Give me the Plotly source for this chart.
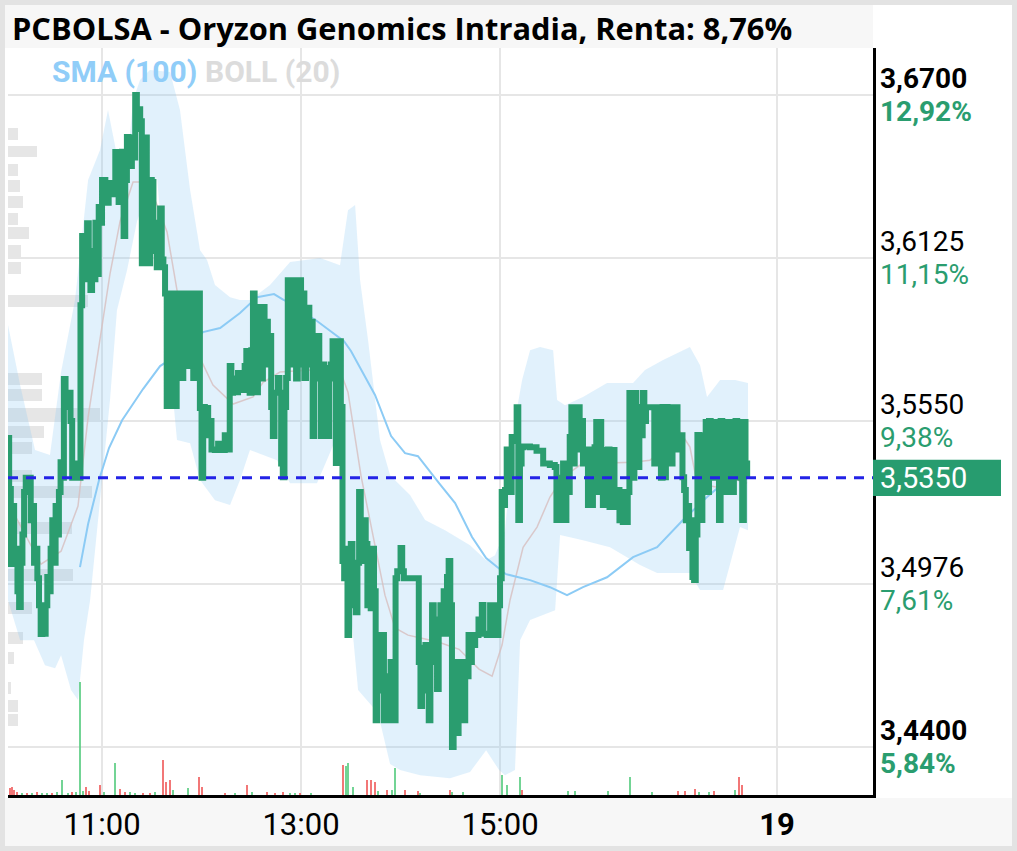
import plotly.graph_objects as go

# ---------------- data (minutes after 10:00, price in EUR) ----------------
ticks_morning = [
    (3, 3.549), (4, 3.531), (5, 3.5046), (6, 3.525), (7, 3.510), (9, 3.495), (10, 3.4894),
    (11, 3.505), (12, 3.515), (13, 3.530), (14, 3.535), (15, 3.530), (16, 3.535), (17, 3.520),
    (18, 3.525), (19, 3.505), (20, 3.510), (21, 3.4996), (22, 3.490), (23, 3.4799), (24, 3.485),
    (25, 3.480), (26, 3.490), (27, 3.500), (28, 3.495), (29, 3.510), (30, 3.520), (31, 3.505),
    (32, 3.525), (33, 3.515), (34, 3.530), (35, 3.5405), (36, 3.535), (37, 3.5698), (38, 3.565),
    (39, 3.560), (40, 3.565), (41, 3.555), (42, 3.535), (43, 3.540), (44, 3.535), (46, 3.535),
    (47, 3.5959), (48, 3.6203), (49, 3.605), (50, 3.615), (51, 3.6248), (52, 3.610), (53, 3.6012),
    (54, 3.615), (55, 3.605), (56, 3.625), (57, 3.6069), (58, 3.6305), (59, 3.625), (60, 3.640),
    (62, 3.632), (64, 3.639), (66, 3.635), (68, 3.6499), (69, 3.640), (70, 3.6323), (71, 3.645),
    (72, 3.650), (73, 3.6203), (74, 3.640), (75, 3.6552), (76, 3.650), (77, 3.645), (78, 3.655),
    (79, 3.648), (80, 3.670), (81, 3.658), (82, 3.665), (83, 3.6608), (84, 3.6107), (85, 3.640),
    (86, 3.655), (87, 3.620), (88, 3.6107), (89, 3.640), (90, 3.6393), (91, 3.615), (92, 3.625),
    (93, 3.6093), (94, 3.620), (95, 3.630), (96, 3.612), (97, 3.6093), (98, 3.600), (99, 3.5603),
    (101, 3.600), (103, 3.5603), (105, 3.600), (107, 3.5702), (109, 3.600), (111, 3.5744),
    (113, 3.600), (115, 3.5702), (117, 3.600), (119, 3.5596), (120, 3.535), (121, 3.560),
    (122, 3.550), (123, 3.5596), (124, 3.550), (125, 3.555), (126, 3.545), (128, 3.5448),
    (130, 3.547), (132, 3.5448), (134, 3.550), (136, 3.545), (137, 3.5744), (138, 3.565),
    (139, 3.570), (140, 3.5652), (142, 3.572), (144, 3.566), (146, 3.5744), (147, 3.5797),
    (148, 3.568), (149, 3.565), (150, 3.580), (151, 3.600),
]
ticks_midday = [
    (152, 3.590), (153, 3.5652), (154, 3.590), (155, 3.5952), (156, 3.570), (157, 3.5952),
    (158, 3.580), (159, 3.590), (160, 3.575), (161, 3.585), (162, 3.560), (163, 3.5497),
    (164, 3.565), (166, 3.5702), (167, 3.565), (168, 3.540), (169, 3.5352), (170, 3.560),
    (171, 3.5702), (172, 3.6047), (173, 3.580), (174, 3.600), (175, 3.575), (176, 3.6047),
    (177, 3.570), (178, 3.590), (179, 3.6047), (180, 3.575), (181, 3.600), (182, 3.5702),
    (183, 3.580), (184, 3.595), (185, 3.575), (186, 3.590), (187, 3.5497), (188, 3.570),
    (189, 3.575), (190, 3.585), (191, 3.570), (192, 3.5497), (193, 3.575), (194, 3.5737),
    (195, 3.565), (196, 3.5497), (197, 3.570), (198, 3.575), (199, 3.5832), (200, 3.570),
    (201, 3.5402), (202, 3.570), (203, 3.5832), (204, 3.560), (205, 3.5056), (206, 3.4996),
    (207, 3.510), (208, 3.4795), (209, 3.495), (210, 3.5116), (211, 3.490), (212, 3.500),
    (213, 3.4876), (214, 3.505), (215, 3.530), (216, 3.515), (217, 3.5056), (218, 3.520),
    (219, 3.5116), (220, 3.490), (221, 3.505), (222, 3.4890), (223, 3.510), (224, 3.495),
    (225, 3.4495), (226, 3.470), (227, 3.4795), (228, 3.460), (229, 3.4795), (230, 3.4495),
    (231, 3.465), (232, 3.4640), (233, 3.4495), (234, 3.470), (235, 3.455), (236, 3.4495),
    (237, 3.4996), (238, 3.502), (240, 3.5102), (241, 3.502), (242, 3.4996), (250, 3.4996),
    (251, 3.470), (252, 3.4545), (253, 3.475), (254, 3.460), (255, 3.4760), (256, 3.460),
    (257, 3.4495), (258, 3.470), (259, 3.490), (260, 3.475), (261, 3.485), (262, 3.4605),
    (263, 3.480), (264, 3.490), (265, 3.485), (266, 3.495), (267, 3.480), (268, 3.500),
    (269, 3.5056), (270, 3.490), (271, 3.440), (272, 3.470), (273, 3.455), (274, 3.445),
    (275, 3.465), (276, 3.470), (277, 3.455), (278, 3.4495), (279, 3.470), (280, 3.465),
    (281, 3.4795), (282, 3.470), (283, 3.4760), (285, 3.4795), (287, 3.485), (289, 3.4901),
    (290, 3.480), (292, 3.4795), (294, 3.490), (296, 3.4795), (298, 3.4795), (299, 3.490),
    (300, 3.4996),
]
ticks_afternoon = [
    (301, 3.530), (302, 3.5254), (303, 3.5307), (304, 3.545), (305, 3.5448), (306, 3.530),
    (307, 3.5494), (309, 3.548), (310, 3.5599), (311, 3.5201), (312, 3.540), (313, 3.5458),
    (314, 3.546), (318, 3.5458), (322, 3.5445), (326, 3.540), (330, 3.5395), (333, 3.5388),
    (334, 3.5201), (335, 3.535), (336, 3.5201), (338, 3.540), (339, 3.5201), (340, 3.530),
    (342, 3.5494), (343, 3.5599), (344, 3.540), (345, 3.5599), (346, 3.545), (347, 3.5599),
    (348, 3.545), (349, 3.555), (350, 3.540), (351, 3.545), (352, 3.5448), (353, 3.5254),
    (354, 3.545), (355, 3.5254), (356, 3.540), (357, 3.5458), (358, 3.5547), (359, 3.530),
    (360, 3.5547), (361, 3.540), (362, 3.5254), (363, 3.5448), (364, 3.530), (365, 3.545),
    (366, 3.5247), (367, 3.535), (368, 3.5448), (369, 3.530), (370, 3.5247), (371, 3.5307),
    (372, 3.520), (373, 3.530), (374, 3.5194), (375, 3.525), (376, 3.5194), (377, 3.530),
    (378, 3.5649), (379, 3.550), (380, 3.535), (381, 3.5649), (382, 3.545), (383, 3.5388),
    (384, 3.560), (385, 3.550), (386, 3.5649), (387, 3.555), (388, 3.5599), (390, 3.5599),
    (392, 3.5599), (393, 3.540), (394, 3.5599), (395, 3.545), (396, 3.5599), (397, 3.535),
    (398, 3.560), (399, 3.5352), (400, 3.560), (401, 3.545), (402, 3.5599), (403, 3.540),
    (404, 3.555), (406, 3.5599), (407, 3.545), (408, 3.550), (410, 3.5352), (411, 3.5307),
    (412, 3.520), (413, 3.525), (414, 3.5102), (415, 3.520), (416, 3.500), (417, 3.4989),
    (418, 3.515), (419, 3.5501), (420, 3.530), (421, 3.5201), (422, 3.550), (423, 3.535),
    (424, 3.5547), (425, 3.530), (426, 3.555), (427, 3.540), (428, 3.5547), (429, 3.535),
    (430, 3.5547), (431, 3.540), (432, 3.5201), (433, 3.555), (434, 3.540), (435, 3.5547),
    (436, 3.530), (437, 3.550), (438, 3.540), (439, 3.5547), (440, 3.530), (441, 3.5352),
    (442, 3.555), (443, 3.540), (444, 3.5547), (445, 3.535), (446, 3.5201), (447, 3.5547),
    (448, 3.540), (449, 3.535),
]

boll_upper = [
    (3.3, 3.5889), (10.6, 3.5677), (19.6, 3.5448), (28.6, 3.5430), (35.3, 3.5723), (43.7, 3.5977),
    (51.6, 3.6400), (58.8, 3.6506), (63.6, 3.6647), (69.0, 3.6488), (73.9, 3.6365), (78.7, 3.6682),
    (82.9, 3.6753), (88.9, 3.6788), (101.0, 3.6781), (107.0, 3.6647), (113.1, 3.6365),
    (119.1, 3.6153), (123.3, 3.6118), (128.1, 3.6030), (137.2, 3.5987), (143.2, 3.5977),
    (149.2, 3.5977), (161.3, 3.6030), (173.4, 3.6111), (191.5, 3.6125), (203.5, 3.6100),
    (208.3, 3.6294), (212.6, 3.6312), (215.6, 3.6047), (220.4, 3.5836), (227.6, 3.5483),
    (233.7, 3.5359), (245.7, 3.5289), (254.8, 3.5201), (266.8, 3.5165), (281.9, 3.5112),
    (291.6, 3.5059), (297.0, 3.5077), (303.0, 3.5165), (309.0, 3.5553), (313.3, 3.5695),
    (318.1, 3.5800), (324.1, 3.5811), (332.0, 3.5800), (334.4, 3.5624), (339.2, 3.5606),
    (350.0, 3.5635), (364.5, 3.5684), (380.2, 3.5684), (387.4, 3.5730), (398.3, 3.5765),
    (414.5, 3.5811), (420.6, 3.5747), (424.8, 3.5635), (432.7, 3.5695), (441.7, 3.5695),
    (449.5, 3.5684),
]
boll_lower = [
    (3.3, 3.4918), (10.6, 3.4777), (19.0, 3.4777), (25.6, 3.4689), (31.7, 3.4678), (35.3, 3.4724),
    (41.3, 3.4601), (45.5, 3.4566), (49.1, 3.4777), (52.8, 3.4918), (58.8, 3.5271), (64.8, 3.5624),
    (69.0, 3.5941), (75.1, 3.6083), (81.1, 3.6255), (88.9, 3.6382), (93.2, 3.6407), (96.8, 3.6153),
    (101.0, 3.5744), (105.2, 3.5483), (113.1, 3.5472), (119.1, 3.5342), (128.1, 3.5271),
    (137.2, 3.5254), (143.2, 3.5342), (149.2, 3.5448), (165.5, 3.5412), (173.4, 3.5331),
    (189.6, 3.5331), (199.9, 3.5472), (204.1, 3.5465), (207.1, 3.5059), (214.4, 3.4601),
    (226.4, 3.4520), (233.7, 3.4340), (239.7, 3.4319), (251.8, 3.4301), (269.8, 3.4290),
    (281.9, 3.4312), (291.6, 3.4389), (299.4, 3.4319), (303.0, 3.4301), (309.0, 3.4319),
    (312.1, 3.4777), (318.1, 3.4848), (333.2, 3.4883), (336.2, 3.5148), (350.0, 3.5130),
    (366.3, 3.5105), (384.4, 3.5042), (394.7, 3.5014), (414.5, 3.5014), (420.6, 3.4954),
    (434.5, 3.4954), (444.7, 3.5176), (449.5, 3.5165),
]
boll_mid = [
    (4.5, 3.5250), (23.2, 3.5045), (35.3, 3.5091), (45.5, 3.5250), (51.6, 3.5564), (60.0, 3.5878),
    (64.8, 3.6069), (70.9, 3.6255), (78.7, 3.6393), (87.1, 3.6393), (93.2, 3.6312), (99.2, 3.6217),
    (105.2, 3.6012), (111.3, 3.5878), (119.1, 3.5772), (126.9, 3.5677), (139.0, 3.5610),
    (151.1, 3.5635), (157.1, 3.5687), (167.3, 3.5723), (185.4, 3.5730), (204.1, 3.5719),
    (208.3, 3.5652), (216.2, 3.5356), (224.6, 3.5116), (230.6, 3.4936), (236.7, 3.4820),
    (244.5, 3.4795), (254.8, 3.4781), (263.2, 3.4770), (275.3, 3.4745), (287.3, 3.4675),
    (295.2, 3.4650), (301.2, 3.4760), (306.0, 3.4918), (313.9, 3.5105), (322.3, 3.5176),
    (330.1, 3.5282), (338.0, 3.5352), (350.0, 3.5402), (364.5, 3.5402), (380.2, 3.5405),
    (390.4, 3.5412), (398.3, 3.5448), (406.7, 3.5529), (414.5, 3.5458), (418.8, 3.5331),
    (430.8, 3.5317), (442.9, 3.5342), (448.9, 3.5331),
]
sma_100 = [
    (46.7, 3.5035), (51.6, 3.5187), (58.2, 3.5342), (64.2, 3.5455), (72.1, 3.5553), (84.7, 3.5663),
    (95.0, 3.5744), (105.2, 3.5783), (114.9, 3.5825), (120.9, 3.5864), (131.2, 3.5878),
    (143.2, 3.5931), (153.5, 3.5987), (163.7, 3.5998), (169.7, 3.5977), (189.6, 3.5903),
    (205.9, 3.5832), (210.1, 3.5797), (224.6, 3.5642), (234.3, 3.5497), (242.7, 3.5437),
    (250.5, 3.5426), (263.2, 3.5331), (272.9, 3.5261), (283.1, 3.5141), (291.6, 3.5067),
    (303.6, 3.5010), (318.1, 3.4989), (330.1, 3.4964), (340.4, 3.4936), (350.0, 3.4964),
    (364.5, 3.4999), (380.2, 3.5070), (394.7, 3.5105), (410.3, 3.5201), (424.8, 3.5282),
    (434.5, 3.5331), (448.9, 3.5402),
]

# volume per trade burst: (minute, shares, up?)
volume_bars = [
    (4.5, 700, 0), (5.7, 800, 0), (6.9, 500, 0), (8.7, 300, 0), (11.8, 200, 1), (14.8, 200, 0),
    (17.8, 200, 1), (20.8, 300, 0), (23.8, 200, 1), (26.8, 200, 1), (29.9, 200, 0), (32.9, 300, 1),
    (35.9, 1500, 1), (39.5, 200, 1), (41.9, 300, 0), (44.3, 300, 1), (46.7, 11300, 1),
    (48.5, 400, 1), (50.4, 800, 0), (52.2, 400, 0), (58.8, 1000, 0), (61.2, 300, 1),
    (67.8, 3200, 1), (70.9, 600, 0), (73.9, 300, 0), (76.9, 300, 1), (79.9, 200, 1),
    (84.7, 200, 0), (88.9, 200, 0), (92.0, 300, 1), (96.8, 3500, 0), (98.6, 1300, 0),
    (101.0, 1500, 0), (102.8, 500, 1), (111.9, 700, 1), (118.5, 1800, 0), (120.3, 800, 0),
    (134.2, 200, 0), (140.2, 200, 1), (147.4, 1000, 0), (150.5, 300, 1), (159.5, 300, 0),
    (164.3, 200, 0), (169.1, 300, 0), (173.4, 200, 1), (176.4, 200, 1), (179.4, 200, 0),
    (186.0, 200, 1), (205.3, 3000, 0), (207.1, 2900, 1), (208.3, 3200, 1), (211.4, 800, 1),
    (219.8, 1500, 0), (222.2, 1500, 0), (224.6, 1300, 0), (226.4, 400, 1), (231.9, 500, 0),
    (234.9, 500, 1), (236.7, 2700, 1), (242.7, 500, 0), (250.5, 400, 0), (251.8, 200, 1),
    (269.8, 500, 0), (271.1, 300, 1), (277.7, 300, 1), (301.2, 2000, 1), (304.2, 1000, 1),
    (312.1, 1800, 1), (313.3, 500, 0), (341.0, 400, 1), (345.2, 400, 1), (365.1, 400, 1),
    (378.4, 1800, 1), (391.8, 300, 1), (407.3, 400, 0), (411.5, 400, 0), (417.6, 600, 0),
    (420.0, 300, 1), (426.0, 300, 1), (429.0, 400, 0), (441.7, 500, 1), (444.1, 1800, 0),
    (445.9, 1000, 0),
]

# volume profile: price level, relative volume
profile_levels = [3.6564, 3.6501, 3.6437, 3.6379, 3.6324, 3.6264, 3.6215, 3.6151, 3.6091, 3.5973,
                  3.5698, 3.5643, 3.5576, 3.5513, 3.5456, 3.5356, 3.5301, 3.5172, 3.5007, 3.4890,
                  3.4784, 3.4714, 3.4608, 3.4545, 3.4495]
profile_volume = [10, 29, 10, 12, 15, 10, 21, 13, 13, 80, 34, 34, 92, 36, 24, 24, 84, 64, 65, 24,
                  15, 6, 3, 10, 10]

last_price = 3.535
price_ticks = [3.67, 3.6125, 3.555, 3.4975, 3.44]
price_labels = ["3,6700", "3,6125", "3,5550", "3,4976", "3,4400"]
pct_labels = ["12,92%", "11,15%", "9,38%", "7,61%", "5,84%"]
bold_ticks = [True, False, False, False, True]
time_ticks = [11.0, 13.0, 15.0, 17.784]
time_labels = ["11:00", "13:00", "15:00", "<b>19</b>"]

# ---------------- figure ----------------
X0, X1 = 10.055, 18.748
Y0, Y1 = 3.4231, 3.6866
GREEN = "#2a9d6f"


def hrs(m):
    return 10 + m / 60.0


ticks = ticks_morning + ticks_midday + ticks_afternoon
px = [hrs(t) for t, _ in ticks]
py = [p for _, p in ticks]

fig = go.Figure()

# Bollinger band fill
bx = [hrs(t) for t, _ in boll_upper] + [hrs(t) for t, _ in reversed(boll_lower)]
by = [p for _, p in boll_upper] + [p for _, p in reversed(boll_lower)]
fig.add_trace(go.Scatter(x=bx, y=by, fill="toself", fillcolor="rgba(140,200,245,0.26)",
                         line=dict(width=0), mode="lines", hoverinfo="skip", showlegend=False))
# volume profile
fig.add_trace(go.Bar(y=profile_levels, x=[v / 99.5 for v in profile_volume], base=X0,
                     orientation="h", width=0.0042,
                     marker=dict(color="rgba(200,200,200,0.45)", line=dict(width=0)),
                     showlegend=False, hoverinfo="skip"))
# Bollinger middle
fig.add_trace(go.Scatter(x=[hrs(t) for t, _ in boll_mid], y=[p for _, p in boll_mid], mode="lines",
                         line=dict(color="rgba(215,190,190,0.8)", width=1.5), showlegend=False))
# SMA 100
fig.add_trace(go.Scatter(x=[hrs(t) for t, _ in sma_100], y=[p for _, p in sma_100], mode="lines",
                         line=dict(color="#8ccbf5", width=2), showlegend=False))
# price
fig.add_trace(go.Scatter(x=px, y=py, mode="lines", line=dict(color=GREEN, width=6, shape="hv"),
                         showlegend=False))
# volume bars
fig.add_trace(go.Bar(x=[hrs(t) for t, _, _ in volume_bars], y=[v for _, v, _ in volume_bars],
                     width=0.022, yaxis="y2",
                     marker=dict(color=["rgba(90,205,130,0.85)" if u else "rgba(240,95,95,0.85)"
                                        for _, _, u in volume_bars], line=dict(width=0)),
                     showlegend=False))


def pxx(p):
    return (p - 8) / 865.0


def pyy(p):
    return (795 - p) / 747.0


shapes = [
    dict(type="rect", xref="paper", yref="paper", x0=pxx(5), x1=pxx(873), y0=pyy(48), y1=pyy(5),
         fillcolor="#f7f7f7", line=dict(width=0), layer="below"),
    dict(type="rect", xref="paper", yref="paper", x0=pxx(5), x1=pxx(1012), y0=pyy(846), y1=pyy(798),
         fillcolor="#f7f7f7", line=dict(width=0), layer="below"),
    dict(type="rect", xref="paper", yref="paper", x0=pxx(2.5), x1=pxx(1014.5), y0=pyy(848.5),
         y1=pyy(2.5), fillcolor="rgba(0,0,0,0)", line=dict(color="#e3e3e3", width=5), layer="above"),
    dict(type="line", xref="paper", yref="y", x0=0, x1=1, y0=last_price, y1=last_price,
         line=dict(color="#2323e6", width=3, dash="10px,8px"), layer="above"),
    dict(type="rect", xref="paper", yref="y", x0=1.0, x1=pxx(1001), y0=last_price - 0.0064,
         y1=last_price + 0.0064, fillcolor="#279c6f", line=dict(width=0), layer="above"),
]

ann = []
for v, pl, pc, b in zip(price_ticks, price_labels, pct_labels, bold_ticks):
    f = "<b>%s</b>"
    ann.append(dict(xref="paper", yref="y", x=pxx(878), y=v, yshift=16.5, xanchor="left",
                    yanchor="middle", showarrow=False, text=(f % pl) if b else pl,
                    font=dict(family="Roboto", size=28, color="#000000")))
    ann.append(dict(xref="paper", yref="y", x=pxx(878), y=v, yshift=-16.5, xanchor="left",
                    yanchor="middle", showarrow=False, text=(f % pc) if b else pc,
                    font=dict(family="Roboto", size=28, color=GREEN)))
ann.append(dict(xref="paper", yref="y", x=pxx(878), y=last_price, xanchor="left", yanchor="middle",
                showarrow=False, text="3,5350", font=dict(family="Roboto", size=29, color="white")))
ann.append(dict(xref="paper", yref="paper", x=pxx(10), y=pyy(28), xanchor="left", yanchor="middle",
                showarrow=False, text="<b>PCBOLSA - Oryzon Genomics Intradia, Renta: 8,76%</b>",
                font=dict(family="Open Sans", size=30.8, color="#000000")))
ann.append(dict(xref="paper", yref="paper", x=pxx(50), y=pyy(72), xanchor="left", yanchor="middle",
                showarrow=False, text="<b>SMA (100)</b>",
                font=dict(family="Roboto", size=30, color="#90cdf8")))
ann.append(dict(xref="paper", yref="paper", x=pxx(203), y=pyy(72), xanchor="left", yanchor="middle",
                showarrow=False, text="<b>BOLL (20)</b>",
                font=dict(family="Roboto", size=30, color="#dcdcdc")))

fig.update_layout(
    width=1017, height=851,
    margin=dict(l=8, r=144, t=48, b=56),
    paper_bgcolor="white", plot_bgcolor="white",
    barmode="overlay", bargap=0,
    shapes=shapes, annotations=ann,
    xaxis=dict(range=[X0, X1], tickvals=time_ticks, ticktext=time_labels, showgrid=True,
               gridcolor="#e6e6e6", gridwidth=2, showline=True, linecolor="black", linewidth=3,
               zeroline=False, ticks="", tickfont=dict(family="Roboto", size=31, color="black")),
    yaxis=dict(range=[Y0, Y1], side="right", tickvals=price_ticks, showticklabels=False,
               showgrid=True, gridcolor="#e6e6e6", gridwidth=2, showline=True, linecolor="black",
               linewidth=3, zeroline=False, ticks=""),
    yaxis2=dict(overlaying="y", range=[0, 74700], visible=False),
    showlegend=False,
)

fig.write_html("out.html", config={"displayModeBar": False},
               post_script="document.body.style.margin='0';document.body.style.padding='0';")
